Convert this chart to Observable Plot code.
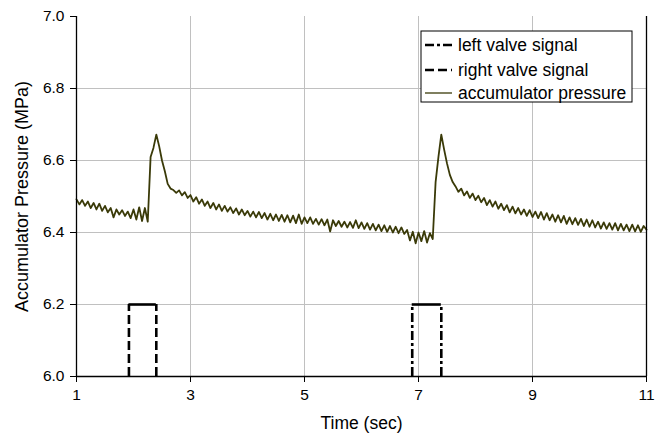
<!DOCTYPE html>
<html>
<head>
<meta charset="utf-8">
<script src="https://cdn.jsdelivr.net/npm/d3@7"></script>
<script src="https://cdn.jsdelivr.net/npm/@observablehq/plot@0.6"></script>
<style>
  body { margin: 0; background: white; }
  #chart svg { display: block; }
</style>
</head>
<body>
<div id="chart"></div>
<script>
// ---- data ----
const xTicks = [1, 3, 5, 7, 9, 11];
const yTicks = [6.0, 6.2, 6.4, 6.6, 6.8, 7.0];
const xLabel = "Time (sec)";
const yLabel = "Accumulator Pressure (MPa)";
const legendLabels = ["left valve signal", "right valve signal", "accumulator pressure"];

// valve signals: [open time, close time] (sec), level off/on on the pressure axis
const leftValveTimes = [6.89, 7.40];
const rightValveTimes = [1.92, 2.40];
const valveOff = 6.0;
const valveOn = 6.2;

// accumulator pressure (MPa), sampled every 0.05 s from t = 1.00 s
const pressureStart = 1.0;
const pressureStep = 0.05;
const pressure = [
  // 1.00 - 1.95
  6.492,6.478,6.490,6.474,6.486,6.468,6.482,6.464,6.480,6.460,6.474,6.456,6.468,6.442,6.464,6.450,6.462,6.446,6.458,6.440,
  // 2.00 - 2.95
  6.464,6.436,6.470,6.432,6.468,6.430,6.610,6.635,6.672,6.640,6.600,6.570,6.535,6.522,6.518,6.510,6.517,6.503,6.512,6.496,
  // 3.00 - 3.95
  6.504,6.486,6.498,6.480,6.492,6.474,6.486,6.468,6.482,6.464,6.478,6.460,6.474,6.458,6.470,6.454,6.467,6.450,6.464,6.448,
  // 4.00 - 4.95
  6.460,6.444,6.458,6.442,6.457,6.440,6.454,6.436,6.452,6.434,6.450,6.432,6.449,6.430,6.448,6.428,6.447,6.426,6.450,6.424,
  // 5.00 - 5.95
  6.442,6.426,6.442,6.424,6.438,6.422,6.437,6.420,6.436,6.403,6.434,6.418,6.432,6.416,6.430,6.414,6.429,6.413,6.434,6.412,
  // 6.00 - 6.95
  6.428,6.410,6.426,6.408,6.424,6.406,6.422,6.404,6.420,6.402,6.418,6.400,6.416,6.398,6.414,6.396,6.407,6.378,6.402,6.370,
  // 7.00 - 7.95
  6.400,6.376,6.404,6.372,6.398,6.382,6.540,6.610,6.672,6.630,6.592,6.560,6.540,6.528,6.513,6.522,6.503,6.514,6.496,6.508,
  // 8.00 - 8.95
  6.490,6.502,6.484,6.496,6.476,6.490,6.472,6.486,6.466,6.480,6.462,6.476,6.456,6.472,6.453,6.468,6.450,6.464,6.446,6.462,
  // 9.00 - 9.95
  6.443,6.458,6.440,6.457,6.436,6.454,6.434,6.450,6.430,6.448,6.428,6.446,6.424,6.442,6.423,6.440,6.421,6.438,6.418,6.436,
  // 10.00 - 10.95
  6.416,6.434,6.414,6.430,6.411,6.428,6.410,6.426,6.408,6.426,6.406,6.424,6.406,6.422,6.404,6.422,6.403,6.420,6.402,6.418,
  // 11.00
  6.408
];

// ---- styles ----
const FONT = "'Liberation Sans', Arial, sans-serif";
const PRESSURE_COLOR = "#3a3a08";
const GRID_COLOR = "#c0c0c0";
const LEFT_DASH = "9,3,3,3";
const RIGHT_DASH = "9,4";

const pressureData = pressure.map((p, i) => ({t: +(pressureStart + i * pressureStep).toFixed(2), p}));
const valveSegments = [
  {times: leftValveTimes, dash: LEFT_DASH},
  {times: rightValveTimes, dash: RIGHT_DASH}
];

function legendMark(index, scales, values, dims) {
  const g = d3.create("svg:g");
  const x0 = 421, y0 = 31, w = 211, h = 71;
  g.append("rect").attr("x", x0).attr("y", y0).attr("width", w).attr("height", h)
    .attr("fill", "white").attr("stroke", "black").attr("stroke-width", 1);
  const rows = [
    {label: legendLabels[0], stroke: "black", width: 2.6, dash: LEFT_DASH},
    {label: legendLabels[1], stroke: "black", width: 2.6, dash: RIGHT_DASH},
    {label: legendLabels[2], stroke: PRESSURE_COLOR, width: 1.3, dash: null}
  ];
  const ys = [45, 70, 93];
  rows.forEach((r, i) => {
    const ln = g.append("line").attr("x1", x0 + 4).attr("x2", x0 + 31)
      .attr("y1", ys[i]).attr("y2", ys[i])
      .attr("stroke", r.stroke).attr("stroke-width", r.width);
    if (r.dash) ln.attr("stroke-dasharray", r.dash);
    g.append("text").attr("x", x0 + 37).attr("y", ys[i]).attr("dy", "0.35em")
      .attr("text-anchor", "start")
      .attr("font-size", 17.5).attr("font-family", FONT).attr("fill", "black").text(r.label);
  });
  return g.node();
}

const chart = Plot.plot({
  width: 665,
  height: 442,
  marginLeft: 76,
  marginRight: 19,
  marginTop: 16,
  marginBottom: 66,
  style: {fontFamily: FONT, fontSize: "15px", background: "white", color: "black"},
  x: {domain: [1, 11]},
  y: {domain: [6, 7]},
  marks: [
    Plot.gridX(xTicks.slice(1, -1), {stroke: GRID_COLOR, strokeOpacity: 1}),
    Plot.gridY(yTicks.slice(1, -1), {stroke: GRID_COLOR, strokeOpacity: 1}),
    Plot.line(pressureData, {x: "t", y: "p", stroke: PRESSURE_COLOR, strokeWidth: 1.8}),
    ...valveSegments.flatMap(v => [
      Plot.ruleX(v.times, {y1: valveOff, y2: valveOn, stroke: "black", strokeWidth: 2.6, strokeDasharray: v.dash}),
      Plot.ruleY([valveOn], {x1: v.times[0], x2: v.times[1], stroke: "black", strokeWidth: 2.6})
    ]),
    Plot.ruleX([1, 11], {stroke: "black", strokeWidth: 1.3}),
    Plot.ruleY([6], {stroke: "black", strokeWidth: 1.3}),
    Plot.axisX(xTicks, {tickSize: 6, tickPadding: 6, fontSize: 15.5, label: null, tickFormat: d => String(d)}),
    Plot.axisY(yTicks, {tickSize: 6, tickPadding: 6, fontSize: 15.5, label: null, tickFormat: d => d.toFixed(1)}),
    Plot.text([xLabel], {frameAnchor: "bottom", dy: 52, fontSize: 17.5, textAnchor: "middle", text: d => d}),
    Plot.text([yLabel], {frameAnchor: "left", dx: -54, rotate: -90, fontSize: 18, textAnchor: "middle", text: d => d}),
    legendMark
  ]
});
document.getElementById("chart").appendChild(chart);
</script>
</body>
</html>
